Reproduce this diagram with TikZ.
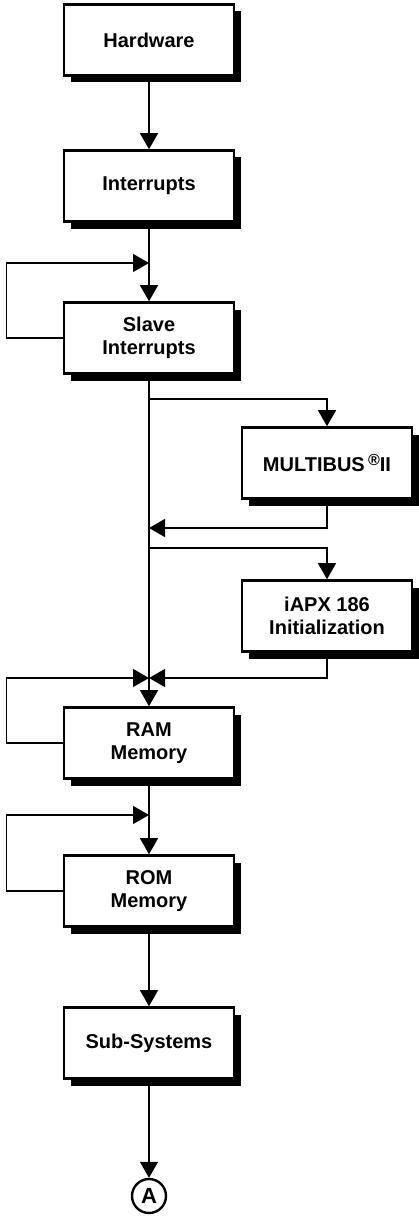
\documentclass[tikz,border=0pt]{standalone}
\usepackage{fontspec}
\setmainfont{Liberation Sans}
\usetikzlibrary{arrows.meta}

\tikzset{
  stagebox/.style={draw, line width=2.6pt, fill=white,
    minimum width=170pt, minimum height=71pt, inner sep=2pt,
    align=center, font=\bfseries\fontsize{20}{23}\selectfont,
    preaction={fill=black, transform canvas={xshift=6.5pt, yshift=-7pt}}},
  flow/.style={line width=1.3pt, -{Triangle[length=16pt,width=18pt]}},
  endmark/.style={draw, circle, line width=2.4pt, minimum size=34pt, inner sep=0pt,
    font=\bfseries\fontsize{22}{22}\selectfont}
}

\begin{document}
\begin{tikzpicture}[x=1pt, y=-1pt]
  \useasboundingbox (0,0) rectangle (419,1217);

  % main column of stages
  \node[stagebox] (hw)    at (149,40)  {Hardware};
  \node[stagebox] (intr)  at (149,186) {Interrupts};
  \node[stagebox] (slave) at (149,338) {Slave\\Interrupts};
  \node[stagebox] (ram)   at (149,743) {RAM\\Memory};
  \node[stagebox] (rom)   at (149,891) {ROM\\Memory};
  \node[stagebox] (sub)   at (149,1043) {Sub-Systems};
  \node[endmark]  (endA)  at (149,1196) {A};

  % side branch stages
  \node[stagebox] (multi) at (327,463) {MULTIBUS\,\raisebox{0.55ex}{\fontsize{16}{16}\selectfont ®}II};
  \node[stagebox] (iapx)  at (327,616) {iAPX 186\\Initialization};

  % junction and turning points
  \coordinate (j1) at (149,263);
  \coordinate (l1) at (6.5,263);
  \coordinate (b1) at (149,399);
  \coordinate (m1) at (149,528);
  \coordinate (b2) at (149,548);
  \coordinate (j2) at (149,678);
  \coordinate (l2) at (6.5,678);
  \coordinate (j3) at (149,815);
  \coordinate (l3) at (6.5,815);

  % main flow
  \draw[flow] (hw) -- (intr);
  \draw[flow] (intr) -- (slave);
  \draw[flow] (slave) -- (ram);
  \draw[flow] (ram) -- (rom);
  \draw[flow] (rom) -- (sub);
  \draw[flow] (sub) -- (endA);

  % retry loops
  \draw[flow] (slave.west) -| (l1) -- (j1);
  \draw[flow] (ram.west) -| (l2) -- (j2);
  \draw[flow] (rom.west) -| (l3) -- (j3);

  % side branches
  \draw[flow] (b1) -| (multi.north);
  \draw[flow] (multi.south) |- (m1);
  \draw[flow] (b2) -| (iapx.north);
  \draw[flow] (iapx.south) |- (j2);
\end{tikzpicture}
\end{document}
